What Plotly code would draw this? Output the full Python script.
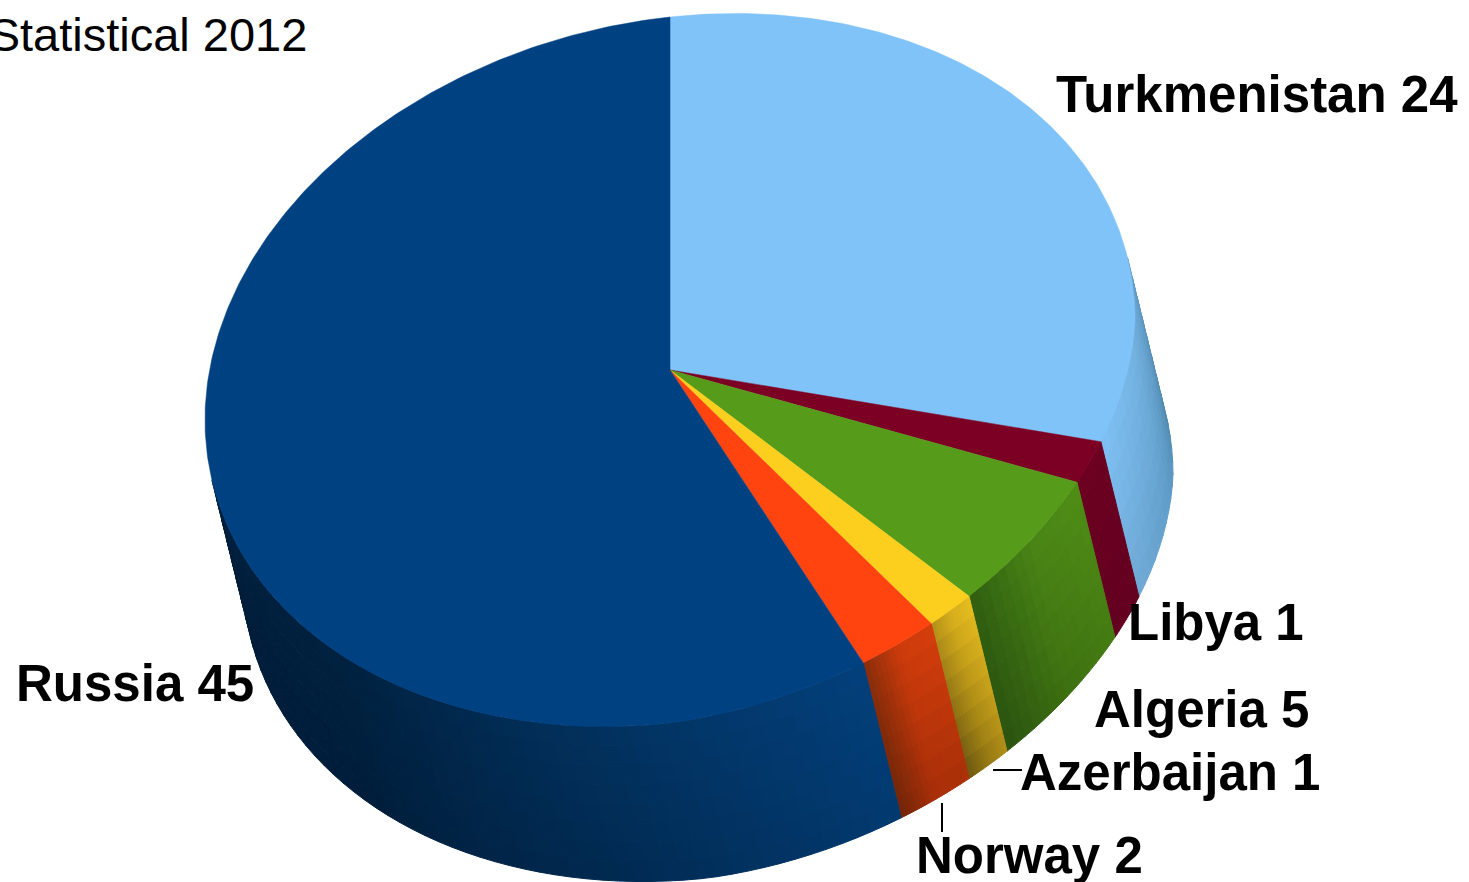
import numpy as np
import plotly.graph_objects as go

# Data
countries = ["Turkmenistan", "Libya", "Algeria", "Azerbaijan", "Norway", "Russia"]
label_values = [24, 1, 5, 1, 2, 45]
# slice sizes (the labels show rounded numbers)
slice_sizes = [23.9, 1.5, 4.65, 1.3, 2.15, 44.5]
top_colours = ["#7fc3f9", "#7b0023", "#579b1a", "#fcce1e", "#ff4410", "#004182"]
# stops run from the right-hand end of each wall to its left-hand end
wall_top_stops = [
    ["#5f98c2", "#74b3e2", "#7fc2f6"],
    ["#6c0020", "#6c0020", "#6c0020"],
    ["#4f8e16", "#4a8516", "#2f5f10"],
    ["#e8c020", "#dcb21c", "#b8941a"],
    ["#d83e0c", "#cf3c0c", "#8a2e0a"],
    ["#03407c", "#02315e", "#00213f", "#001f3d"],
]
wall_bottom_stops = [
    ["#4c84a8", "#5f9cc8", "#6fa8d4"],
    ["#640020", "#640020", "#640020"],
    ["#457c12", "#3d6f10", "#2a5210"],
    ["#b08c18", "#927612", "#6a5610"],
    ["#a83008", "#a82e08", "#6f2408"],
    ["#023a70", "#012a52", "#001e3c", "#001c38"],
]
labels = [
    {"text": "Turkmenistan 24", "x": 1056, "y": 99},
    {"text": "Libya 1", "x": 1128, "y": 627},
    {"text": "Algeria 5", "x": 1094, "y": 714},
    {"text": "Azerbaijan 1", "x": 1020, "y": 777},
    {"text": "Norway 2", "x": 916, "y": 860},
    {"text": "Russia 45", "x": 16, "y": 688},
]
title_text = "Statistical 2012"

# Projection of the tilted disc onto the page
CX, CY = 670, 370
RX, RY, SHEAR = 465, 353, 50
DEPTH_X, DEPTH_Y = 38, 155
VISIBLE_FROM, VISIBLE_TO = 10.3, -170.0


def rim(t_deg, dx=0.0, dy=0.0):
    t = np.radians(t_deg)
    # the reference's outline is slightly flattened at its lower right
    lobe = np.clip(np.cos(t), 0, None) * np.clip(-np.sin(t), 0, None)
    x = CX + RX * np.cos(t) + dx - 16 * lobe
    y = CY - RY * np.sin(t) - SHEAR * np.cos(t) + dy - 12 * lobe
    return x, y


def hex_rgb(h):
    return np.array([int(h[i:i + 2], 16) for i in (1, 3, 5)], dtype=float)


def ramp(stops, f):
    pos = f * (len(stops) - 1)
    i = min(int(pos), len(stops) - 2)
    return hex_rgb(stops[i]) * (1 - (pos - i)) + hex_rgb(stops[i + 1]) * (pos - i)


def css(c):
    return "rgb(%d,%d,%d)" % tuple(np.clip(np.round(c), 0, 255))


fig = go.Figure()

total = sum(slice_sizes)
bounds = 90 - 360 * np.concatenate([[0], np.cumsum(slice_sizes)]) / total
N_LEVELS = 8

# Side walls
for k in range(len(countries)):
    start = min(bounds[k], VISIBLE_FROM)
    end = max(bounds[k + 1], VISIBLE_TO)
    if start <= end:
        continue
    n = max(14, int((start - end) / 2.0))
    edges = np.linspace(start, end, n + 1)
    for i in range(n):
        f = (i + 0.5) / n
        top = ramp(wall_top_stops[k], f)
        bot = ramp(wall_bottom_stops[k], f)
        for j in range(N_LEVELS):
            a, b = j / N_LEVELS, (j + 1) / N_LEVELS
            col = css(top * (1 - (a + b) / 2) + bot * (a + b) / 2)
            arc1 = np.linspace(edges[i], edges[i + 1], 3)
            x1, y1 = rim(arc1, DEPTH_X * a, DEPTH_Y * a)
            x2, y2 = rim(arc1[::-1], DEPTH_X * b, DEPTH_Y * b)
            fig.add_trace(go.Scatter(
                x=np.r_[x1, x2, x1[0]], y=np.r_[y1, y2, y1[0]],
                mode="lines", fill="toself", fillcolor=col,
                line=dict(color=col, width=1),
                hoverinfo="skip", showlegend=False))

# Top face
for k, name in enumerate(countries):
    arc = np.linspace(bounds[k], bounds[k + 1], max(3, int((bounds[k] - bounds[k + 1]) * 1.5)))
    x, y = rim(arc)
    fig.add_trace(go.Scatter(
        x=np.r_[CX, x, CX], y=np.r_[CY, y, CY],
        mode="lines", fill="toself", fillcolor=top_colours[k],
        line=dict(color=top_colours[k], width=0.5),
        name=name, hoverinfo="skip", showlegend=False))

# Leader lines
fig.add_trace(go.Scatter(x=[993, 1022], y=[770, 770], mode="lines",
                         line=dict(color="black", width=2), hoverinfo="skip", showlegend=False))
fig.add_trace(go.Scatter(x=[942, 942], y=[803, 832], mode="lines",
                         line=dict(color="black", width=2), hoverinfo="skip", showlegend=False))

# Labels
for lab in labels:
    fig.add_trace(go.Scatter(
        x=[lab["x"]], y=[lab["y"]], mode="text", text=[lab["text"]],
        textposition="middle right", cliponaxis=False,
        textfont=dict(family="Liberation Sans", size=51, color="black", weight="bold"),
        hoverinfo="skip", showlegend=False))
fig.add_trace(go.Scatter(
    x=[148], y=[39], mode="text", text=[title_text],
    textposition="middle center", cliponaxis=False,
    textfont=dict(family="Liberation Sans", size=47, color="black"),
    hoverinfo="skip", showlegend=False))

fig.update_layout(
    width=1469, height=882, margin=dict(l=0, r=0, t=0, b=0),
    paper_bgcolor="white", plot_bgcolor="white",
    xaxis=dict(range=[0, 1469], visible=False, fixedrange=True),
    yaxis=dict(range=[882, 0], visible=False, fixedrange=True),
)
fig.write_html("out.html", config={"displayModeBar": False},
               post_script="document.body.style.margin='0';document.body.style.overflow='hidden';")
